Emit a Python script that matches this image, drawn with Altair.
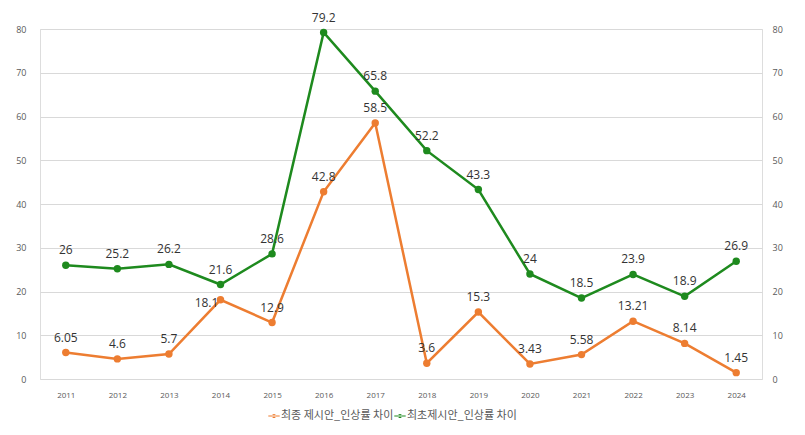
import altair as alt
import pandas as pd

years = [str(y) for y in range(2011, 2025)]
final_gap = [6.05, 4.6, 5.7, 18.1, 12.9, 42.8, 58.5, 3.6, 15.3, 3.43, 5.58, 13.21, 8.14, 1.45]
first_gap = [26, 25.2, 26.2, 21.6, 28.6, 79.2, 65.8, 52.2, 43.3, 24, 18.5, 23.9, 18.9, 26.9]
s_final = "최종 제시안_인상률 차이"
s_first = "최초제시안_인상률 차이"

rows = []
for y, v in zip(years, final_gap):
    rows.append({"year": y, "value": v, "series": s_final})
for y, v in zip(years, first_gap):
    rows.append({"year": y, "value": v, "series": s_first})
df = pd.DataFrame(rows)

ORANGE = "#ED7D31"
GREEN = "#1E8A1E"
cscale = alt.Scale(domain=[s_final, s_first], range=[ORANGE, GREEN])

legend = alt.Legend(
    title=None, orient="none", direction="horizontal", legendX=228, legendY=381,
    labelFont="Noto Sans CJK KR", labelFontSize=11, labelColor="#595959",
    symbolType="M-1,-0.1 L1,-0.1 L1,0.1 L-1,0.1 Z M-0.36,0 A0.36,0.36 0 1,0 0.36,0 A0.36,0.36 0 1,0 -0.36,0 Z",
    symbolSize=130, symbolStrokeWidth=0, symbolOffset=0, columnPadding=0, labelOffset=1,
)

x = alt.X("year:N", title=None, sort=years,
          scale=alt.Scale(paddingInner=0, paddingOuter=0.5, padding=0.5),
          axis=alt.Axis(labelAngle=0, domain=False, ticks=False, labelFontSize=8,
                        labelColor="#595959", labelPadding=12, labelFont="Open Sans"))
yscale = alt.Scale(domain=[0, 80], nice=False)
y = alt.Y("value:Q", title=None, scale=yscale,
          axis=alt.Axis(values=list(range(0, 81, 10)), domain=False, ticks=False, grid=True,
                        gridColor="#D9D9D9", labelFontSize=9, labelColor="#595959",
                        labelPadding=14, labelFont="Open Sans"))

base = alt.Chart(df)
lines = base.mark_line(strokeWidth=2.5).encode(
    x=x, y=y, color=alt.Color("series:N", scale=cscale, legend=None))
points = base.mark_circle(size=55, opacity=1).encode(
    x=x, y=y, color=alt.Color("series:N", scale=cscale, sort=[s_final, s_first], legend=legend))

is_moved = (alt.datum.year == "2014") & (alt.datum.series == s_final)
labels = base.mark_text(dy=-15, fontSize=12, color="#333333", font="Open Sans").encode(
    x=x, y=y, text=alt.Text("value:Q")).transform_filter(~is_moved)
labels_moved = base.mark_text(dx=-14, dy=3, fontSize=12, color="#333333", font="Open Sans").encode(
    x=x, y=y, text=alt.Text("value:Q")).transform_filter(is_moved)

right = base.mark_point(opacity=0).encode(
    x=x,
    y=alt.Y("value:Q", title=None, scale=yscale,
            axis=alt.Axis(orient="right", values=list(range(0, 81, 10)), domain=False, ticks=False,
                          grid=False, labelFontSize=9, labelColor="#595959", labelPadding=10,
                          labelFont="Open Sans")))

left_layer = alt.layer(lines, points, labels, labels_moved).resolve_legend(color="independent")
chart = alt.layer(left_layer, right).resolve_scale(y="independent").properties(
    width=722, height=350,
    autosize=alt.AutoSizeParams(type="none"),
    padding={"left": 32, "top": 21, "right": 35, "bottom": 50},
).configure_view(stroke=None).configure(background="white")

chart.save("out.html", embed_options={"renderer": "svg", "actions": False})
